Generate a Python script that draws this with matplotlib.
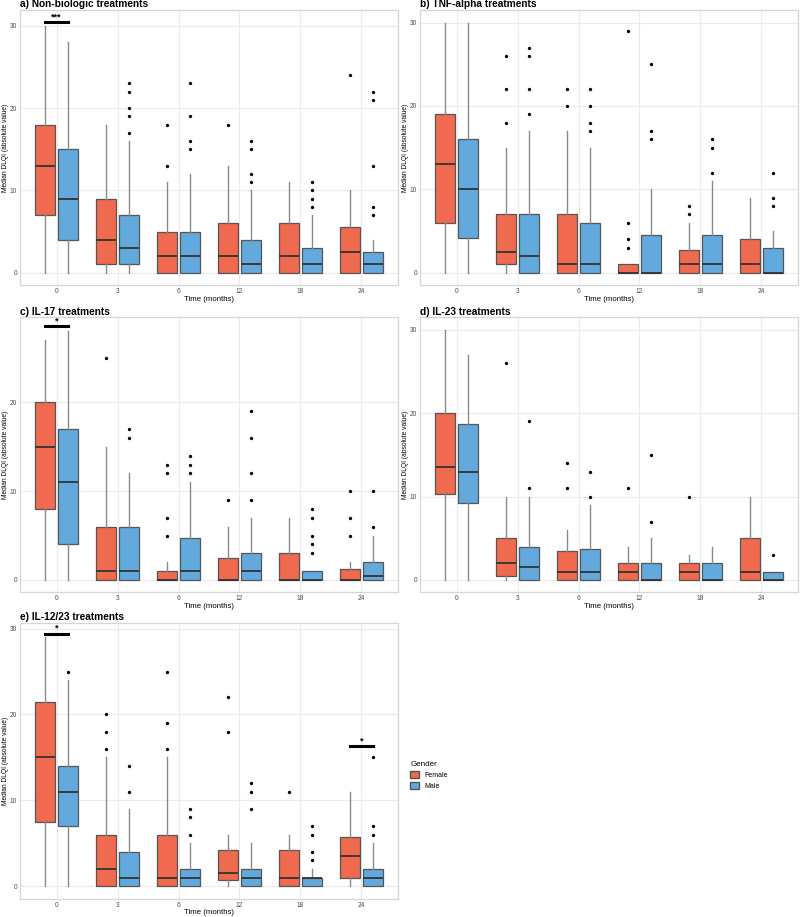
import numpy as np
import matplotlib.pyplot as plt
from matplotlib.patches import Patch

plt.rcParams['font.family'] = ['Liberation Sans', 'DejaVu Sans']

times = ['0', '3', '6', '12', '18', '24']
genders = ['Female', 'Male']
colors = {'Female': '#EF6A4F', 'Male': '#62A9DD'}

titles = ['a) Non-biologic treatments', 'b) TNF-alpha treatments', 'c) IL-17 treatments',
          'd) IL-23 treatments', 'e) IL-12/23 treatments']

# box stats per panel: [whislo, q1, med, q3, whishi] for each time point
nonbio_f = [[0, 7, 13, 18, 30], [0, 1, 4, 9, 18], [0, 0, 2, 5, 11], [0, 0, 2, 6, 13], [0, 0, 2, 6, 11], [0, 0, 2.5, 5.5, 10]]
nonbio_m = [[0, 4, 9, 15, 28], [0, 1, 3, 7, 16], [0, 0, 2, 5, 12], [0, 0, 1, 4, 10], [0, 0, 1, 3, 7], [0, 0, 1, 2.5, 4]]
nonbio_f_out = [[], [], [13, 18], [18], [], [24]]
nonbio_m_out = [[], [17, 19, 20, 22, 23], [15, 16, 19, 23], [11, 12, 15, 16], [8, 9, 10, 11], [7, 8, 13, 21, 22]]

tnf_f = [[0, 6, 13, 19, 30], [0, 1, 2.5, 7, 15], [0, 0, 1, 7, 17], [0, 0, 0, 1, 1], [0, 0, 1, 2.75, 6], [0, 0, 1, 4, 9]]
tnf_m = [[0, 4.2, 10, 16, 30], [0, 0, 2, 7, 17], [0, 0, 1, 6, 15], [0, 0, 0, 4.5, 10], [0, 0, 1, 4.5, 11], [0, 0, 0, 3, 5]]
tnf_f_out = [[], [18, 22, 26], [20, 22], [3, 4, 6, 29], [7, 8], []]
tnf_m_out = [[], [19, 22, 26, 27], [17, 18, 20, 22], [16, 17, 25], [12, 15, 16], [8, 9, 12]]

il17_f = [[0, 8, 15, 20, 27], [0, 0, 1, 6, 15], [0, 0, 0, 1, 2], [0, 0, 0, 2.5, 6], [0, 0, 0, 3, 7], [0, 0, 0, 1.25, 2]]
il17_m = [[0, 4, 11, 17, 28], [0, 0, 1, 6, 12], [0, 0, 1, 4.7, 11], [0, 0, 1, 3, 7], [0, 0, 0, 1, 1], [0, 0, 0.5, 2, 5]]
il17_f_out = [[], [25], [5, 7, 12, 13], [9], [], [5, 7, 10]]
il17_m_out = [[], [16, 17], [12, 13, 14], [9, 12, 16, 19], [3, 4, 5, 7, 8], [6, 10]]

il23_f = [[0, 10.3, 13.5, 20, 30], [0, 0.5, 2, 5, 10], [0, 0, 1, 3.5, 6], [0, 0, 1, 2, 4], [0, 0, 1, 2, 3], [0, 0, 1, 5, 10]]
il23_m = [[0, 9.25, 13, 18.75, 27], [0, 0, 1.5, 4, 10], [0, 0, 1, 3.75, 9], [0, 0, 0, 2, 5], [0, 0, 0, 2, 4], [0, 0, 0, 1, 1]]
il23_f_out = [[], [26], [11, 14], [11], [10], []]
il23_m_out = [[], [11, 19], [10, 13], [7, 15], [], [3]]

il1223_f = [[0, 7.5, 15, 21.5, 29], [0, 0, 2, 6, 15], [0, 0, 1, 6, 15], [0, 0.75, 1.5, 4.25, 6], [0, 0, 1, 4.25, 6], [0, 1, 3.5, 5.75, 11]]
il1223_m = [[0, 7, 11, 14, 24], [0, 0, 1, 4, 9], [0, 0, 1, 2, 5], [0, 0, 1, 2, 5], [0, 0, 1, 1, 2], [0, 0, 1, 2, 5]]
il1223_f_out = [[], [16, 18, 20], [16, 19, 25], [18, 22], [11], []]
il1223_m_out = [[25], [11, 14], [6, 8, 9], [9, 11, 12], [3, 4, 6, 7], [6, 7, 15]]

panels = [(nonbio_f, nonbio_m, nonbio_f_out, nonbio_m_out),
          (tnf_f, tnf_m, tnf_f_out, tnf_m_out),
          (il17_f, il17_m, il17_f_out, il17_m_out),
          (il23_f, il23_m, il23_f_out, il23_m_out),
          (il1223_f, il1223_m, il1223_f_out, il1223_m_out)]

# significance brackets: (panel, time index, y, label)
signif = [(0, 0, 30.4, '***'), (2, 0, 28.6, '*'), (4, 0, 29.4, '*'), (4, 5, 16.3, '*')]
ylims = [(-1.52, 31.9), (-1.5, 31.5), (-1.4, 29.6), (-1.5, 31.5), (-1.5, 30.7)]

fig = plt.figure(figsize=(8, 9.17), dpi=100)
boxes = [[0.025, 0.689, 0.4725, 0.300], [0.525, 0.689, 0.4725, 0.300],
         [0.025, 0.354, 0.4725, 0.300], [0.525, 0.354, 0.4725, 0.300],
         [0.025, 0.0196, 0.4725, 0.3014]]

off = 0.1875
for k, (fs, ms, fo, mo) in enumerate(panels):
    ax = fig.add_axes(boxes[k])
    x = np.arange(len(times))
    for g, stats, outs, sgn in [('Female', fs, fo, -1), ('Male', ms, mo, 1)]:
        st = [dict(whislo=s[0], q1=s[1], med=s[2], q3=s[3], whishi=s[4], fliers=o)
              for s, o in zip(stats, outs)]
        ax.bxp(st, positions=x + sgn * off, widths=0.32, patch_artist=True, showcaps=False,
               boxprops=dict(facecolor=colors[g], edgecolor='#555555', linewidth=0.9),
               medianprops=dict(color='#333333', linewidth=1.3),
               whiskerprops=dict(color='#8a8a8a', linewidth=1.0),
               flierprops=dict(marker='o', markersize=2.4, markerfacecolor='black',
                               markeredgewidth=0),
               zorder=3)
    for p, ti, yv, lab in signif:
        if p == k:
            ax.plot([ti - off, ti + off], [yv, yv], color='black', lw=2.2, zorder=4)
            ax.text(ti, yv + 0.1, lab, ha='center', va='bottom', fontsize=6.5, fontweight='bold')
    ax.set_xlim(-0.6, 5.6)
    ax.set_ylim(*ylims[k])
    ax.set_xticks(x)
    ax.set_xticklabels(times)
    ax.set_yticks([t for t in [0, 10, 20, 30] if t < ylims[k][1]])
    ax.tick_params(labelsize=4.8, colors='#4d4d4d', length=0, pad=2)
    ax.grid(True, color='#ebebeb', lw=0.8)
    ax.set_axisbelow(True)
    for s in ax.spines.values():
        s.set_color('#d6d6d6')
        s.set_linewidth(0.9)
    ax.set_xlabel('Time (months)', fontsize=5.6, labelpad=0.5)
    ax.set_ylabel('Median DLQI (absolute value)', fontsize=4.8, labelpad=1)
    ax.set_title(titles[k], loc='left', fontsize=7.3, fontweight='bold', pad=2)

handles = [Patch(facecolor=colors[g], edgecolor='#555555', label=g) for g in genders]
fig.legend(handles=handles, title='Gender', loc='upper left', bbox_to_anchor=(0.505, 0.177),
           frameon=False, fontsize=5, title_fontsize=5.8, handlelength=1.2, handleheight=1.0,
           alignment='left')

fig.savefig('out.png', dpi=100)
